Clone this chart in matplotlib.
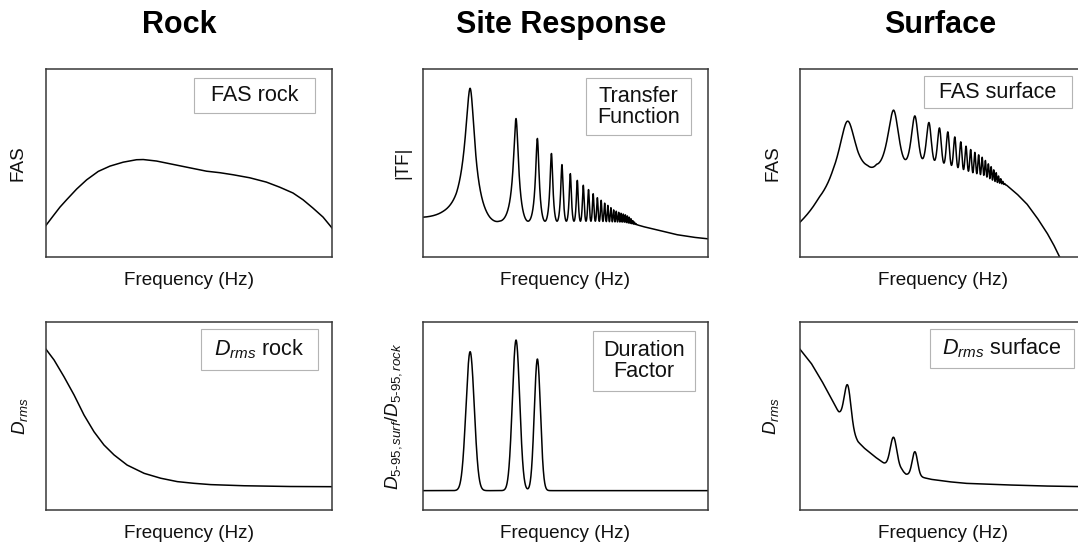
import numpy as np
import matplotlib
matplotlib.use("Agg")
import matplotlib.pyplot as plt
from matplotlib.patches import Rectangle

plt.rcParams["font.family"] = ["Liberation Sans", "DejaVu Sans"]
plt.rcParams["mathtext.fontset"] = "custom"
plt.rcParams["mathtext.rm"] = "Liberation Sans"
plt.rcParams["mathtext.it"] = "Liberation Sans:italic"
plt.rcParams["mathtext.bf"] = "Liberation Sans:bold"

# frequency range shared by every panel (log axis, Hz)
freq_lim = (0.32, 300)

# rock Fourier amplitude spectrum
fas_rock_freq = [0.32, 0.381, 0.447, 0.524, 0.666, 0.846, 1.118, 1.477, 2.03, 2.79, 3.28, 4.51, 6.71,
                 9.99, 14.9, 20.5, 28.2, 41.9, 62.4, 85.8, 118, 150, 190, 242, 300]
fas_rock_amp = [0.170, 0.221, 0.267, 0.306, 0.363, 0.412, 0.457, 0.485, 0.506, 0.519, 0.520, 0.512, 0.494,
                0.476, 0.458, 0.450, 0.439, 0.423, 0.400, 0.373, 0.342, 0.306, 0.262, 0.214, 0.156]

# rock rms duration
drms_rock_freq = [0.32, 0.388, 0.492, 0.626, 0.795, 1.01, 1.28, 1.63, 2.23, 3.35, 4.98, 7.40, 11.0, 16.5, 36.5, 110, 300]
drms_rock_val = [0.855, 0.798, 0.709, 0.612, 0.505, 0.416, 0.346, 0.293, 0.239, 0.195, 0.169, 0.151, 0.142,
                 0.135, 0.129, 0.125, 0.124]

# transfer function: resonance peaks (odd modes) and trough level
tf_peak_freq = [1, 3, 5, 7, 9, 11, 13, 15, 17, 19, 21, 23, 25, 27, 29, 31, 33, 35, 37, 39, 41, 43, 45, 47, 49, 51, 53, 55]
tf_peak_amp = [0.899, 0.738, 0.632, 0.552, 0.493, 0.445, 0.409, 0.383, 0.360, 0.338, 0.317, 0.303, 0.288, 0.276,
               0.264, 0.252, 0.245, 0.239, 0.234, 0.230, 0.226, 0.220, 0.213, 0.205, 0.195, 0.187, 0.179, 0.172]
tf_trough_freq = [0.32, 0.52, 0.72, 1.16, 1.6, 2, 20, 40, 55, 62, 93, 138, 206, 300]
tf_trough_amp = [0.188, 0.170, 0.155, 0.155, 0.175, 0.192, 0.192, 0.187, 0.172, 0.164, 0.143, 0.121, 0.107, 0.098]

# duration factor
df_base = 0.103
df_peak_freq = [1, 3, 5]
df_peak_top = [0.842, 0.904, 0.803]
df_peak_width = [0.043, 0.038, 0.032]  # log10 units

# surface Fourier amplitude spectrum
fas_surf_peak_freq = [1, 3, 5, 7, 9, 11, 13, 15, 17, 19, 21, 23, 25, 27, 29, 31, 33, 35, 37, 39, 41, 43, 45]
fas_surf_peak_amp = [0.724, 0.783, 0.752, 0.717, 0.688, 0.667, 0.640, 0.614, 0.591, 0.573, 0.558, 0.545,
                     0.532, 0.515, 0.497, 0.482, 0.465, 0.450, 0.432, 0.418, 0.404, 0.392, 0.383]
fas_surf_trough_freq = [0.32, 0.5, 0.7, 1.0, 1.28, 1.6, 2, 4, 6, 8, 12, 20, 26, 35, 45, 57.2, 72.6, 92.3, 117,
                        137, 158.6, 186]
fas_surf_trough_amp = [0.165, 0.235, 0.255, 0.25, 0.33, 0.43, 0.495, 0.52, 0.525, 0.516, 0.489, 0.450, 0.436,
                       0.400, 0.383, 0.338, 0.285, 0.213, 0.133, 0.071, 0.004, -0.07]

# surface rms duration: smooth trend plus the three modal bumps
drms_surf_freq = [0.32, 0.419, 0.533, 0.677, 0.808, 0.895, 1.11, 1.28, 1.50, 1.91, 2.39, 2.69, 3.26, 3.61,
                  4.04, 4.67, 5.93, 7.40, 11.0, 16.5, 36.5, 99.7, 300]
drms_surf_trend = [0.855, 0.780, 0.691, 0.594, 0.518, 0.489, 0.415, 0.363, 0.328, 0.284, 0.248, 0.234, 0.218,
                   0.213, 0.190, 0.183, 0.174, 0.163, 0.151, 0.142, 0.135, 0.128, 0.124]
drms_surf_peak_freq = [1, 3, 5]
drms_surf_peak_top = [0.665, 0.387, 0.310]
drms_surf_peak_width = [0.034, 0.034, 0.028]


def log_interp(f, xp, fp, right=None):
    return np.interp(np.log10(f), np.log10(xp), fp, right=right)


def layer_response(f, peak_freq, peak_amp, trough_freq, trough_amp):
    # resonant layer: troughs sit on the trough curve, odd modes reach the peak values
    trough = log_interp(f, trough_freq, trough_amp)
    peak = log_interp(f, peak_freq, peak_amp, right=np.nan)
    ratio = np.where(np.isnan(peak), 1.0, trough / peak)
    z = np.pi * f / (2 * peak_freq[0])
    return trough / np.sqrt(np.cos(z) ** 2 + (ratio * np.sin(z)) ** 2)


def add_bumps(f, base, freqs, tops, widths):
    out = base.copy()
    for fc, top, w in zip(freqs, tops, widths):
        base_c = np.interp(np.log10(fc), np.log10(f), base)
        out += (top - base_c) * np.exp(-0.5 * ((np.log10(f) - np.log10(fc)) / w) ** 2)
    return out


f = np.linspace(freq_lim[0], freq_lim[1], 150000)

tf = layer_response(f, tf_peak_freq, tf_peak_amp, tf_trough_freq, tf_trough_amp)
fas_surf = layer_response(f, fas_surf_peak_freq, fas_surf_peak_amp, fas_surf_trough_freq, fas_surf_trough_amp)
dur_factor = add_bumps(f, np.full_like(f, df_base), df_peak_freq, df_peak_top, df_peak_width)
drms_surf = add_bumps(f, log_interp(f, drms_surf_freq, drms_surf_trend),
                      drms_surf_peak_freq, drms_surf_peak_top, drms_surf_peak_width)

W, H = 1078, 544
fig = plt.figure(figsize=(W / 100, H / 100), dpi=100)

col_left = [46, 422.5, 800]
row_top = [69.3, 322]
ax_w, ax_h = 286, 188


def make_axes(col, row):
    x0 = col_left[col] / W
    y0 = 1 - (row_top[row] + ax_h) / H
    ax = fig.add_axes([x0, y0, ax_w / W, ax_h / H])
    ax.set_xscale("log")
    ax.set_xlim(*freq_lim)
    ax.set_ylim(0, 1)
    ax.tick_params(which="both", bottom=False, left=False, labelbottom=False, labelleft=False)
    for sp in ax.spines.values():
        sp.set_color("#383838")
        sp.set_linewidth(1.1)
    return ax


def label_box(ax, text, x0, x1, y0, y1):
    ax.add_patch(Rectangle((x0, y0), x1 - x0, y1 - y0, transform=ax.transAxes, facecolor="white",
                           edgecolor="#b4b4b4", linewidth=0.8, zorder=5))
    ax.text((x0 + x1) / 2, (y0 + y1) / 2, text, transform=ax.transAxes, ha="center", va="center",
            fontsize=15.6, linespacing=1.0, zorder=6, color="#111111")


def axis_labels(ax, ylabel, ypad):
    ax.annotate("Frequency (Hz)", xy=(0.5, 0), xycoords="axes fraction", xytext=(0, -27.5),
                textcoords="offset pixels", ha="center", va="baseline", fontsize=13.6, color="#111111")
    ax.annotate(ylabel, xy=(0, 0.5), xycoords="axes fraction", xytext=(-ypad, 0),
                textcoords="offset pixels", ha="center", va="center", rotation=90, fontsize=13.6,
                color="#111111")


line_kw = dict(color="black", linewidth=1.1)

ax = make_axes(0, 0)
ax.plot(fas_rock_freq, fas_rock_amp, **line_kw)
label_box(ax, "FAS rock", 0.5185, 0.9416, 0.766, 0.952)
axis_labels(ax, "FAS", 28)

ax = make_axes(1, 0)
ax.plot(f, tf, **line_kw)
label_box(ax, "Transfer\nFunction", 0.572, 0.939, 0.650, 0.952)
axis_labels(ax, "|TF|", 20)

ax = make_axes(2, 0)
ax.plot(f, fas_surf, **line_kw)
label_box(ax, "FAS surface", 0.4336, 0.951, 0.794, 0.964)
axis_labels(ax, "FAS", 27)

ax = make_axes(0, 1)
ax.plot(drms_rock_freq, drms_rock_val, **line_kw)
label_box(ax, r"$D_{rms}$ rock", 0.542, 0.951, 0.745, 0.961)
axis_labels(ax, r"$D_{rms}$", 26)

ax = make_axes(1, 1)
ax.plot(f, dur_factor, **line_kw)
label_box(ax, "Duration\nFactor", 0.597, 0.954, 0.635, 0.954)
axis_labels(ax, r"$D_{\mathit{5}\text{-}\mathit{95},surf}/D_{\mathit{5}\text{-}\mathit{95},rock}$", 29)

ax = make_axes(2, 1)
ax.plot(f, drms_surf, **line_kw)
label_box(ax, r"$D_{rms}$ surface", 0.4545, 0.958, 0.755, 0.963)
axis_labels(ax, r"$D_{rms}$", 29)

for x, title in zip([179, 561, 940], ["Rock", "Site Response", "Surface"]):
    fig.text(x / W, 1 - 32.7 / H, title, ha="center", va="baseline", fontsize=22, fontweight="bold")

fig.savefig("out.png", dpi=100)
